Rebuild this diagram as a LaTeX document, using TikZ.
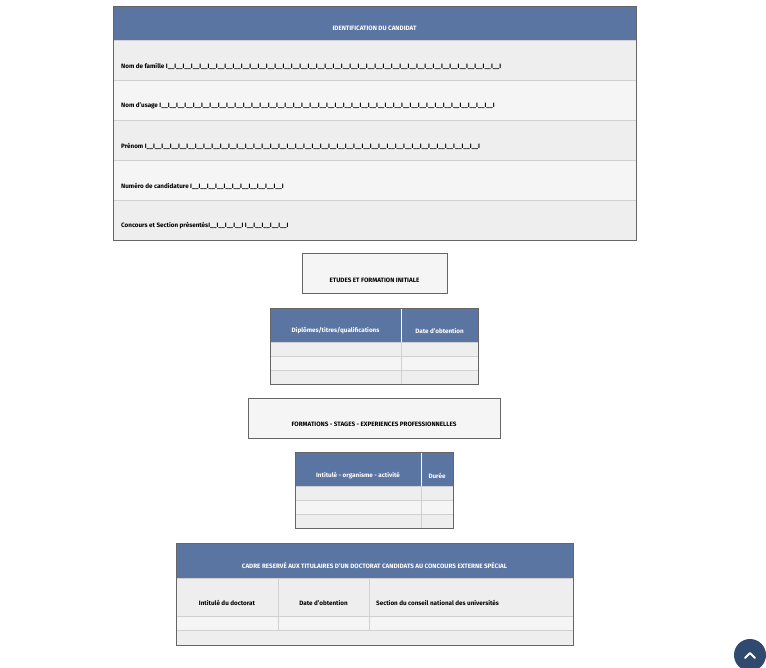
\documentclass[tikz,border=0pt]{standalone}
\usepackage{fontspec}
\setmainfont{Fira Sans}
\usetikzlibrary{positioning}
\definecolor{headblue}{HTML}{5B75A3}
\definecolor{rowa}{HTML}{EEEEEE}
\definecolor{rowb}{HTML}{F5F5F5}
\definecolor{gridgrey}{HTML}{D0D0D0}
\definecolor{btnblue}{HTML}{2F4A6E}
\tikzset{
  head/.style={fill=headblue, draw=gray},
  rowlight/.style={fill=rowb, draw=gridgrey},
  rowdark/.style={fill=rowa, draw=gridgrey},
  frame/.style={draw=gray!80!black},
  lbl/.style={font=\fontsize{6.3}{7}\selectfont\bfseries, inner sep=0pt},
  hlbl/.style={lbl, text=white},
}
\newcommand\slots[1]{I\foreach\i in {1,...,#1}{\_\_I}}
\begin{document}
\begin{tikzpicture}[x=1pt,y=-1pt]
\useasboundingbox (0,0) rectangle (766,667);
% identification
\draw[head] (113,6) rectangle (636,40);
\node (idhead) [hlbl] at (374.5,28) {IDENTIFICATION DU CANDIDAT};
\foreach \y/\s in {40/rowdark,80/rowlight,120/rowdark,160/rowlight,200/rowdark}
  \draw[\s] (113,\y) rectangle (636,\y+40);
\draw[frame] (113,6) rectangle (636,240);
\node (nom) [lbl, anchor=west] at (121,66) {Nom de famille \slots{40}};
\node (usage) [lbl, anchor=west] at (121,106) {Nom d'usage \slots{40}};
\node (prenom) [lbl, anchor=west] at (121,146) {Prénom \slots{40}};
\node (numero) [lbl, anchor=west] at (121,186) {Numéro de candidature \slots{11}};
\node (concours) [lbl, anchor=west] at (121,226) {Concours et Section présentés\slots{4} \slots{5}};
% etudes
\draw[frame, fill=rowb] (302,253) rectangle (447,293);
\node (etudes) [lbl] at (374.5,280) {ETUDES ET FORMATION INITIALE};
\draw[head] (270,308) rectangle (478,342);
\draw[white] (401,308) -- (401,342);
\node (dipl) [hlbl] at (335.5,331) {Diplômes/titres/qualifications};
\node (dobt) [hlbl] at (439.5,331) {Date d'obtention};
\foreach \y/\s in {342/rowdark,356/rowlight,370/rowdark}
  \draw[\s] (270,\y) rectangle (478,\y+14);
\draw[gridgrey] (401,342) -- (401,384);
\draw[frame] (270,308) rectangle (478,384);
% formations
\draw[frame, fill=rowb] (248,398) rectangle (500,438);
\node (formations) [lbl] at (374,424) {FORMATIONS - STAGES - EXPERIENCES PROFESSIONNELLES};
\draw[head] (295,452) rectangle (453,486);
\draw[white] (421,452) -- (421,486);
\node (intit) [hlbl] at (358,476) {Intitulé - organisme - activité};
\node (duree) [hlbl] at (437,476) {Durée};
\foreach \y/\s in {486/rowdark,500/rowlight,514/rowdark}
  \draw[\s] (295,\y) rectangle (453,\y+14);
\draw[gridgrey] (421,486) -- (421,528);
\draw[frame] (295,452) rectangle (453,528);
% doctorat
\draw[head] (176,543) rectangle (573,578);
\node (cadre) [hlbl] at (374.5,566) {CADRE RESERVÉ AUX TITULAIRES D'UN DOCTORAT CANDIDATS AU CONCOURS EXTERNE SPÉCIAL};
\draw[rowdark] (176,578) rectangle (573,616);
\draw[rowlight] (176,616) rectangle (573,630);
\draw[rowdark] (176,630) rectangle (573,645);
\draw[gridgrey] (278,578) -- (278,630) (369,578) -- (369,630);
\draw[frame] (176,543) rectangle (573,645);
\node (doct) [lbl] at (227,603) {Intitulé du doctorat};
\node (ddoct) [lbl] at (323.5,603) {Date d'obtention};
\node (sect) [lbl, anchor=west] at (376,603) {Section du conseil national des universités};
% bouton
\node (btn) [circle, fill=btnblue, minimum size=32pt, inner sep=0pt] at (750,655) {};
\draw[white, line width=2pt, line cap=round, line join=round] ([shift={(-5,3)}]btn.center) -- ([shift={(0,-2)}]btn.center) -- ([shift={(5,3)}]btn.center);
\end{tikzpicture}
\end{document}
